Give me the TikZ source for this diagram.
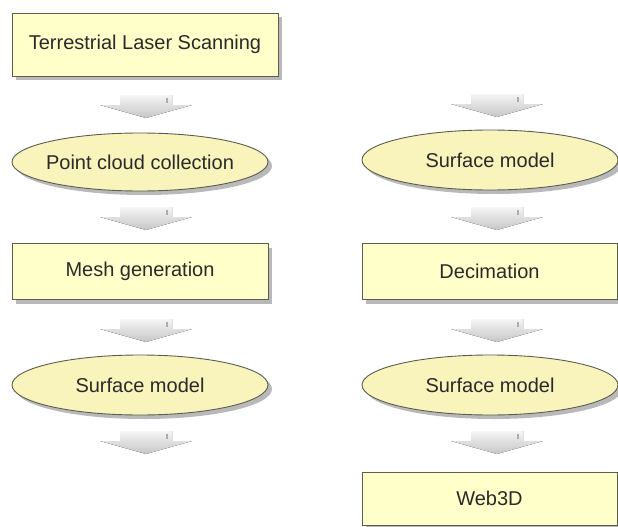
\documentclass[tikz,border=0pt]{standalone}
\usepackage{fontspec}
\setmainfont{Liberation Sans}
\usetikzlibrary{shapes.geometric,shadows}

\definecolor{boxfill}{HTML}{FFFFCA}
\definecolor{ellfill}{HTML}{F8F4BC}
\definecolor{edgecol}{HTML}{5C5C50}
\definecolor{txtcol}{HTML}{2A2A2A}

\tikzset{
  base/.style={draw=edgecol, line width=0.9pt, text=txtcol, inner sep=0pt,
    font=\fontsize{20}{24}\selectfont,
    drop shadow={shadow xshift=4pt, shadow yshift=-4pt, fill=black!50, opacity=0.55}},
  stepbox/.style={base, rectangle, fill=boxfill, minimum width=#1, minimum height=56pt},
  stepell/.style={base, ellipse, fill=ellfill, inner xsep=-20pt,
    minimum width=256pt, minimum height=#1},
  % grey block arrow pointing down, origin at the top centre
  blockarrow/.pic={
    \fill[top color=gray!8, bottom color=gray!45]
      (-26,0) -- (26,0) -- (26,10) -- (46,10) -- (0,23) -- (-46,10) -- (-26,10) -- cycle;
    \draw[gray!65, line width=1.2pt] (21,3) -- (21,8);
  }
}

\begin{document}
\begin{tikzpicture}[x=1pt, y=-1pt]
  \useasboundingbox (0,0) rectangle (618,527);

  % left column
  \node[stepbox=266pt, minimum height=63pt] (tls) at (145,44.5) {Terrestrial Laser Scanning};
  \node[stepell=58pt] (pcc) at (140,162) {Point cloud collection};
  \node[stepbox=256pt] (mesh) at (140,271.5) {Mesh generation};
  \node[stepell=60pt] (sm1) at (140,385) {Surface model};

  % right column
  \node[stepell=60pt] (sm2) at (490,160) {Surface model};
  \node[stepbox=255pt] (dec) at (489.5,271.5) {Decimation};
  \node[stepell=60pt] (sm3) at (490,385) {Surface model};
  \node[stepbox=255pt, minimum height=53pt] (web) at (489.5,498.5) {Web3D};

  % block arrows between the steps
  \pic at (146,95) {blockarrow};
  \pic at (146,207) {blockarrow};
  \pic at (146,319) {blockarrow};
  \pic at (146,431) {blockarrow};

  \pic at (497,94) {blockarrow};
  \pic at (497,207) {blockarrow};
  \pic at (497,319) {blockarrow};
  \pic at (497,431) {blockarrow};
\end{tikzpicture}
\end{document}
